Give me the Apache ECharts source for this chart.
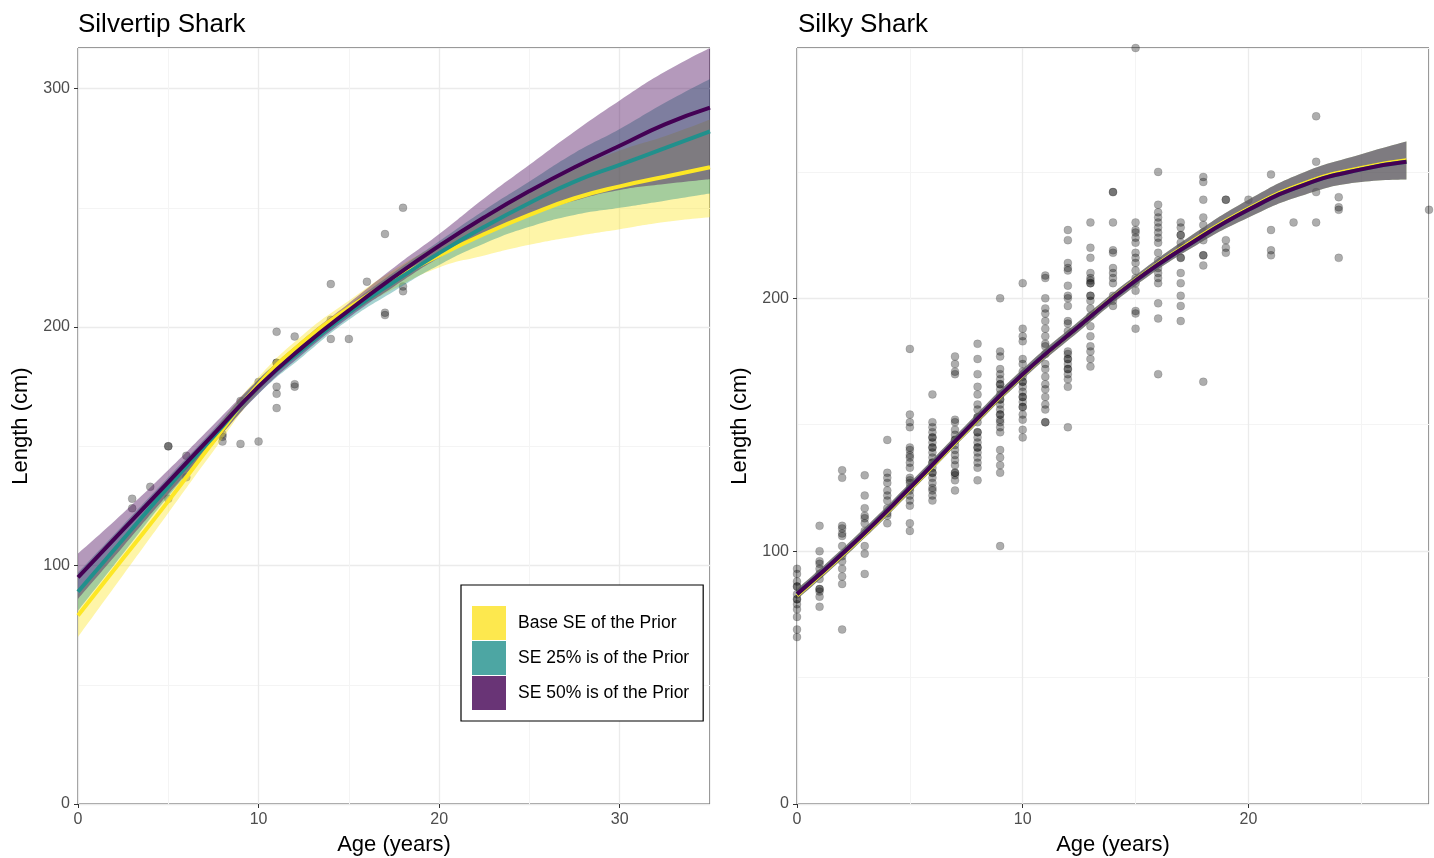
<!DOCTYPE html>
<html>
<head>
<meta charset="utf-8">
<script src="https://cdn.jsdelivr.net/npm/echarts@6/dist/echarts.min.js"></script>
<style>
  html, body { margin: 0; padding: 0; background: #fff; }
  #main { width: 1434px; height: 858px; }
</style>
</head>
<body>
<div id="main"></div>
<script>
// ---- Silvertip fits ----
var fitAges = [0, 2.5, 5, 7.5, 10, 12.5, 15, 17.5, 20, 22.5, 25, 27.5, 30, 32.5, 35];

var baseLine = [79, 103, 127, 152, 176, 194, 208, 220, 230, 239, 247, 254, 259, 263, 267];
var baseLo   = [70, 96, 122, 148, 173, 191, 205, 216, 225, 230, 234.5, 238, 241, 244, 246];
var baseHi   = [88, 110, 132, 156, 179, 197, 211, 224, 235, 246, 256, 266, 274, 280, 287];

var se25Line = [89, 111, 133, 154, 175, 191, 206, 219, 231, 242, 252, 261, 268, 275, 282];
var se25Lo   = [81, 105, 129, 151, 172, 188, 203, 215, 226, 235, 242, 247, 250, 253, 256];
var se25Hi   = [97, 117, 137, 157, 178, 194, 209, 223, 236, 249, 261, 273, 283, 294, 304];

var se50Line = [95, 115, 135, 155, 175, 192, 207, 221, 234, 246, 257, 267, 276, 285, 292];
var se50Lo   = [86, 108, 130, 151, 172, 189, 204, 217, 229, 239, 247, 253, 257.5, 260, 262];
var se50Hi   = [105, 122, 140, 159, 178, 195, 210, 225, 239, 254, 268, 282, 295, 307, 317];

// silvertip observations
var tipAge = [3, 3, 4, 5, 5, 5, 6, 6, 8, 8, 8, 9, 9, 10, 10, 11, 11, 11, 11, 11, 11, 12, 12, 12, 14, 14, 14, 15, 16, 17, 17, 17, 18, 18, 18];
var tipLen = [128, 124, 133, 150, 150, 128, 137, 146, 155, 152, 154, 151, 169, 152, 177, 198, 185, 185, 175, 172, 166, 196, 176, 175, 218, 203, 195, 195, 219, 239, 206, 205, 250, 217, 215];

// ---- Silky fits ----
var silkyFitAges  = [0, 2.5, 5, 7.5, 10, 12.5, 15, 17.5, 20, 22.5, 25, 27];
var silkyLine     = [83, 103, 125, 148, 170, 189, 207, 222, 235, 245, 251, 254];
var silkyBaseLine = [82.5, 102.5, 124.5, 147.5, 169.7, 189, 207.3, 222.5, 235.5, 245.6, 251.6, 254.6];
var silkyLo       = [81, 101, 123, 146, 168, 187, 205, 220, 232, 241, 246, 247];
var silkyHi       = [85, 105, 127, 150, 172, 191, 209, 225, 239, 250, 257, 262];

// silky observations, lengths grouped by age
var silkyAges = [0, 1, 2, 3, 4, 5, 6, 7, 8, 9, 10, 11, 12, 13, 14, 15, 16, 17, 18, 19, 20, 21, 22, 23, 24, 28];
var silkyLens = [
  [93, 91, 88, 86, 86, 83, 81, 81, 79, 77, 74, 69, 66],
  [110, 100, 96, 95, 93, 91, 89, 85, 85, 84, 82, 78],
  [132, 129, 110, 109, 107, 106, 102, 98, 96, 93, 90, 87, 69],
  [130, 122, 117, 114, 113, 111, 108, 102, 99, 91],
  [144, 131, 129, 127, 124, 122, 120, 117, 115, 114, 111],
  [180, 154, 151, 149, 141, 140, 138, 137, 135, 133, 129, 128, 127, 125, 124, 122, 120, 118, 111, 108],
  [162, 151, 149, 147, 145, 145, 143, 141, 141, 139, 137, 135, 135, 133, 131, 131, 129, 127, 125, 124, 122, 120],
  [177, 174, 171, 170, 152, 151, 148, 146, 144, 144, 142, 140, 138, 136, 134, 131, 131, 130, 128, 124],
  [182, 176, 170, 165, 162, 158, 156, 153, 153, 151, 147, 147, 145, 143, 141, 141, 139, 137, 135, 133, 128],
  [200, 179, 177, 172, 170, 168, 166, 166, 164, 162, 160, 160, 158, 156, 154, 154, 152, 151, 149, 147, 140, 137, 134, 131, 102],
  [206, 188, 185, 183, 176, 174, 171, 169, 167, 167, 165, 163, 161, 161, 159, 157, 157, 154, 152, 148, 145],
  [209, 208, 200, 196, 194, 191, 188, 185, 182, 181, 178, 174, 172, 169, 166, 164, 161, 158, 156, 151, 151],
  [227, 223, 214, 212, 211, 205, 201, 200, 197, 191, 190, 187, 179, 178, 176, 176, 174, 172, 172, 170, 168, 165, 149],
  [230, 220, 216, 210, 208, 207, 206, 206, 201, 201, 199, 196, 193, 189, 185, 181, 179, 176, 173],
  [242, 242, 230, 219, 218, 212, 210, 208, 206, 201, 199, 197],
  [299, 230, 227, 226, 224, 222, 218, 216, 214, 211, 208, 206, 203, 195, 194, 188],
  [250, 237, 234, 232, 230, 228, 226, 224, 222, 218, 215, 212, 210, 208, 206, 198, 192, 170],
  [230, 228, 225, 225, 222, 220, 216, 216, 210, 206, 201, 197, 191],
  [248, 246, 239, 232, 229, 226, 223, 217, 217, 213, 167],
  [239, 239, 223, 220, 218],
  [239],
  [249, 227, 219, 217],
  [230],
  [272, 254, 242, 230],
  [240, 236, 235, 216],
  [235]
];

var legendNames = ['Base SE of the Prior', 'SE 25% is of the Prior', 'SE 50% is of the Prior'];
var YELLOW = '#FDE725', TEAL = '#21908C', PURPLE = '#440154';

function pairs(xs, ys) {
  return xs.map(function (x, i) { return [x, ys[i]]; });
}

function silkyPairs() {
  var out = [];
  silkyAges.forEach(function (a, i) {
    silkyLens[i].forEach(function (l) { out.push([a, l]); });
  });
  return out;
}

// a ribbon = invisible lower line + stacked filled difference.
// values go in column 0 (encoded to y) so the stack is done on length, not age
function band(name, ax, xs, lo, hi, color, key) {
  var diff = hi.map(function (h, i) { return h - lo[i]; });
  var flip = function (ys) { return xs.map(function (x, i) { return [ys[i], x]; }); };
  return [{
    type: 'line', xAxisIndex: ax, yAxisIndex: ax, stack: key,
    data: flip(lo), encode: { x: 1, y: 0 }, smooth: true, symbol: 'none', silent: true,
    lineStyle: { width: 0 }, z: 3
  }, {
    type: 'line', name: name, xAxisIndex: ax, yAxisIndex: ax, stack: key,
    data: flip(diff), encode: { x: 1, y: 0 }, smooth: true, symbol: 'none', silent: true,
    lineStyle: { width: 0 }, itemStyle: { color: color },
    areaStyle: { color: color, opacity: 0.4 }, z: 3
  }];
}

function fitLine(ax, xs, ys, color) {
  return {
    type: 'line', xAxisIndex: ax, yAxisIndex: ax, data: pairs(xs, ys),
    smooth: true, symbol: 'none', silent: true,
    lineStyle: { color: color, width: 4 }, z: 4
  };
}

function dots(ax, data) {
  return {
    type: 'scatter', xAxisIndex: ax, yAxisIndex: ax, data: data, symbolSize: 8,
    itemStyle: { color: 'rgba(0,0,0,0.4)', borderColor: 'rgba(0,0,0,0.2)', borderWidth: 0.8 },
    silent: true, z: 2
  };
}

// two axes per panel: one for light minor grid, one for major grid + labels
function xAxes(grid, max, labels) {
  return [{
    gridIndex: grid, type: 'value', position: 'bottom', min: 0, max: max, interval: 5,
    axisLine: { show: false }, axisTick: { show: false }, axisLabel: { show: false },
    splitLine: { show: true, lineStyle: { color: '#f4f4f4', width: 1 } }
  }, {
    gridIndex: grid, type: 'value', position: 'bottom', min: 0, max: max, interval: 10,
    axisLine: { show: false },
    axisTick: { show: true, length: 4, customValues: labels, lineStyle: { color: '#333' } },
    axisLabel: { color: '#4d4d4d', fontSize: 16, margin: 8, customValues: labels },
    splitLine: { show: true, lineStyle: { color: '#ebebeb', width: 1.3 } },
    name: 'Age (years)', nameLocation: 'middle', nameGap: 30,
    nameTextStyle: { fontSize: 22, color: '#000' }
  }];
}

function yAxes(grid, max, labels) {
  return [{
    gridIndex: grid, type: 'value', position: 'left', min: 0, max: max, interval: 50,
    axisLine: { show: false }, axisTick: { show: false }, axisLabel: { show: false },
    splitLine: { show: true, lineStyle: { color: '#f4f4f4', width: 1 } }
  }, {
    gridIndex: grid, type: 'value', position: 'left', min: 0, max: max, interval: 100,
    axisLine: { show: false },
    axisTick: { show: true, length: 4, customValues: labels, lineStyle: { color: '#333' } },
    axisLabel: { color: '#4d4d4d', fontSize: 16, margin: 8, customValues: labels },
    splitLine: { show: true, lineStyle: { color: '#ebebeb', width: 1.3 } },
    name: 'Length (cm)', nameLocation: 'middle', nameGap: 46,
    nameTextStyle: { fontSize: 22, color: '#000' }
  }];
}

var chart = echarts.init(document.getElementById('main'));

var series = [dots(1, pairs(tipAge, tipLen))]
  .concat(band(legendNames[0], 1, fitAges, baseLo, baseHi, YELLOW, 'tipBase'))
  .concat(band(legendNames[1], 1, fitAges, se25Lo, se25Hi, TEAL, 'tip25'))
  .concat(band(legendNames[2], 1, fitAges, se50Lo, se50Hi, PURPLE, 'tip50'))
  .concat([
    fitLine(1, fitAges, baseLine, YELLOW),
    fitLine(1, fitAges, se25Line, TEAL),
    fitLine(1, fitAges, se50Line, PURPLE)
  ])
  .concat([dots(3, silkyPairs())])
  .concat(band(legendNames[0], 3, silkyFitAges, silkyLo, silkyHi, YELLOW, 'silkyBase'))
  .concat(band(legendNames[1], 3, silkyFitAges, silkyLo, silkyHi, TEAL, 'silky25'))
  .concat(band(legendNames[2], 3, silkyFitAges, silkyLo, silkyHi, PURPLE, 'silky50'))
  .concat([
    fitLine(3, silkyFitAges, silkyBaseLine, YELLOW),
    fitLine(3, silkyFitAges, silkyLine, TEAL),
    fitLine(3, silkyFitAges, silkyLine, PURPLE)
  ]);

chart.setOption({
  animation: false,
  textStyle: { fontFamily: "'Liberation Sans', Arial, sans-serif" },
  title: [
    { text: 'Silvertip Shark', left: 78, top: 12, padding: 0, textStyle: { fontSize: 26, fontWeight: 'normal', color: '#000' } },
    { text: 'Silky Shark', left: 798, top: 12, padding: 0, textStyle: { fontSize: 26, fontWeight: 'normal', color: '#000' } }
  ],
  grid: [
    { left: 78, top: 48, width: 632, height: 756, outerBoundsMode: 'none', show: true, borderColor: '#333', borderWidth: 1, backgroundColor: '#fff' },
    { left: 797, top: 48, width: 632, height: 756, outerBoundsMode: 'none', show: true, borderColor: '#333', borderWidth: 1, backgroundColor: '#fff' }
  ],
  xAxis: xAxes(0, 35, [0, 10, 20, 30]).concat(xAxes(1, 28, [0, 10, 20])),
  yAxis: yAxes(0, 317, [0, 100, 200, 300]).concat(yAxes(1, 299, [0, 100, 200])),
  legend: {
    orient: 'vertical', left: 461, top: 585, selectedMode: false,
    backgroundColor: '#fff', borderColor: '#000', borderWidth: 1.2,
    padding: [21, 14, 11, 11], itemGap: 1, itemWidth: 34, itemHeight: 34,
    textStyle: { fontSize: 17.5, color: '#000', padding: [0, 0, 0, 7] },
    data: [
      { name: legendNames[0], icon: 'rect', itemStyle: { color: '#FDE84E' } },
      { name: legendNames[1], icon: 'rect', itemStyle: { color: '#4DA6A3' } },
      { name: legendNames[2], icon: 'rect', itemStyle: { color: '#693476' } }
    ]
  },
  series: series
});
</script>
</body>
</html>
